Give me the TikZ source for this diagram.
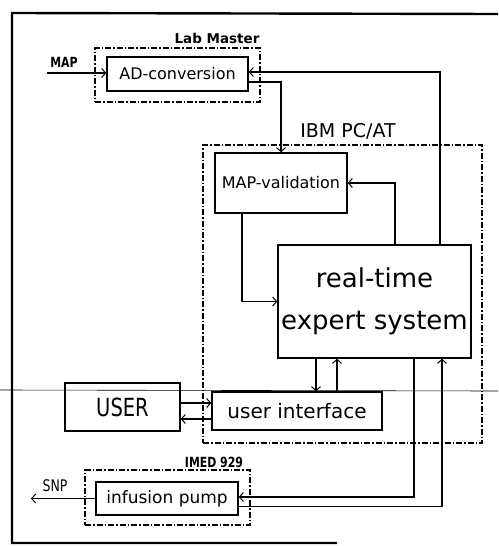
\documentclass[tikz,border=0pt]{standalone}
\usepackage{fontspec}
\setmainfont{DejaVu Sans}
\newfontfamily\narrowsf[FakeStretch=0.78]{DejaVu Sans}
\usetikzlibrary{arrows.meta,calc}
\tikzset{
  blk/.style={draw, line width=1.4pt, inner sep=0pt, rectangle},
  grp/.style={draw, line width=1.2pt, inner sep=0pt, rectangle,
              dash pattern=on 6pt off 2pt on 1.5pt off 2pt},
  arr/.style={line width=1.2pt, -{Straight Barb[length=4pt,width=9pt,line width=1pt]}},
  fs/.style={font=\fontsize{#1}{#1}\selectfont},
  nfs/.style={font=\narrowsf\fontsize{#1}{#1}\selectfont},
  bfs/.style={font=\narrowsf\bfseries\fontsize{#1}{#1}\selectfont}
}
\begin{document}
\begin{tikzpicture}[x=1pt,y=-1pt]
\useasboundingbox (0,0) rectangle (498,546);

% outer frame and the thin rule across the sheet
\draw[line width=2.4pt] (498,14) -- (12,13) -- (12,543) -- (337,543);
\draw[line width=0.6pt] (0,390) -- (498,391);

% hardware groups
\node[grp, minimum width=165pt, minimum height=54pt] (labm) at (177.5,75) {};
\node[grp, minimum width=279pt, minimum height=298pt] (ibm) at (342.5,294) {};
\node[grp, minimum width=165pt, minimum height=55pt] (imed) at (167.5,497.5) {};

\node[font=\bfseries\fontsize{13.5}{13.5}\selectfont] (labml) at (217,38) {Lab Master};
\node[fs=19] (ibml) at (348,131) {IBM PC/AT};
\node[bfs=14] (imedl) at (214,462) {IMED 929};

% functional blocks
\node[blk, fs=16, minimum width=141pt, minimum height=34pt] (ad) at (177.5,74) {AD-conversion};
\node[blk, fs=16, minimum width=132pt, minimum height=60pt] (mapval) at (281,183) {MAP-validation};
\node[blk, minimum width=193pt, minimum height=113pt, align=center,
      font=\fontsize{26}{42}\selectfont] (exp) at (374.5,301.5) {real-time\\expert system};
\node[blk, fs=20, minimum width=170pt, minimum height=38pt] (ui) at (297,411) {user interface};
\node[blk, nfs=25, minimum width=115pt, minimum height=48pt] (user) at (122.5,407) {USER};
\node[blk, fs=17, minimum width=142pt, minimum height=33pt] (pump) at (167,498.5) {infusion pump};

% signal names
\node[bfs=14] (mapl) at (64,62) {MAP};
\node[nfs=16] (snpl) at (55,486) {SNP};
\coordinate (mapin) at (47,73);
\coordinate (snpout) at (31,497);

% connections
\draw[arr] (mapin) -- (mapin -| ad.west);
\draw[arr] ({440,0} |- exp.north) |- ([yshift=2pt]ad.east);
\draw[arr] ([yshift=-8pt]ad.east) -| (mapval.north);
\draw[arr] ({395,0} |- exp.north) |- (mapval.east);
\draw[arr] ({242,0} |- mapval.south) |- (exp.west);
\draw[arr] ({316,0} |- exp.south) -- ({316,0} |- ui.north);
\draw[arr] ({337,0} |- ui.north) -- ({337,0} |- exp.south);
\draw[arr] ({414,0} |- exp.south) |- ([yshift=1.5pt]pump.east);
\draw[arr] ([yshift=-8pt]pump.east) -| ({442,0} |- exp.south);

\coordinate (u1) at ([yshift=4pt]user.east);
\coordinate (u2) at ([yshift=-12pt]user.east);
\draw[arr] (u1) -- (u1 -| ui.west);
\draw[arr] (u2 -| ui.west) -- (u2);
\draw[arr] (pump.west) -- (snpout |- pump.west);
\end{tikzpicture}
\end{document}
